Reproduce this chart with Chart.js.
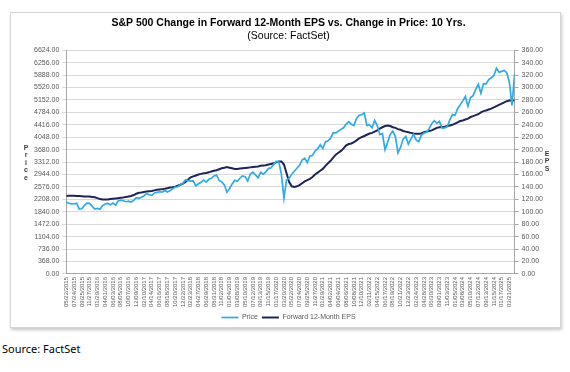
<!DOCTYPE html>
<html>
<head>
<meta charset="utf-8">
<script src="https://cdn.jsdelivr.net/npm/chart.js@4.4.1/dist/chart.umd.min.js"></script>
<style>
  body { margin: 0; background: #fff; width: 570px; height: 372px; position: relative; overflow: hidden; }
  #marco { position: absolute; left: 10px; top: 12px; width: 549px; height: 314px; border: 1px solid #d6d6d6; box-shadow: 1px 2px 3px rgba(0,0,0,0.22); background: #fff; }
  #grafico { position: absolute; left: 0; top: 0; }
  #fuente { position: absolute; left: 2px; top: 341px; font-family: "Noto Sans", sans-serif; font-size: 11px; color: #000; }
</style>
</head>
<body>
<div id="marco"><canvas id="grafico" width="549" height="320"></canvas></div>
<div id="fuente">Source: FactSet</div>
<script>
// etiquetas del eje x (cada 9 semanas)
const etiquetas = [
  '05/22/2015', '07/24/2015', '09/25/2015', '11/27/2015', '01/29/2016', '04/01/2016',
  '06/03/2016', '08/05/2016', '10/07/2016', '12/09/2016', '02/10/2017', '04/14/2017',
  '06/16/2017', '08/18/2017', '10/20/2017', '12/22/2017', '02/23/2018', '04/27/2018',
  '06/29/2018', '08/31/2018', '11/02/2018', '01/04/2019', '03/08/2019', '05/10/2019',
  '07/12/2019', '09/13/2019', '11/15/2019', '01/17/2020', '03/20/2020', '05/22/2020',
  '07/24/2020', '09/25/2020', '11/27/2020', '01/29/2021', '04/02/2021', '06/04/2021',
  '08/06/2021', '10/08/2021', '12/10/2021', '02/11/2022', '04/15/2022', '06/17/2022',
  '08/19/2022', '10/21/2022', '12/23/2022', '02/24/2023', '04/28/2023', '06/30/2023',
  '09/01/2023', '11/03/2023', '01/05/2024', '03/08/2024', '05/10/2024', '07/12/2024',
  '09/13/2024', '11/15/2024', '01/17/2025', '03/21/2025'
];
const semanasPorEtiqueta = 9;
const semanasPorDato = 3; // un dato cada 3 semanas

// S&P 500 (precio)
const precio = [
  2126, 2094, 2077, 2079, 2092, 1921, 1931, 2033, 2099, 2090, 2005, 1922,
  1940, 1917, 2022, 2073, 2091, 2046, 2099, 2037, 2161, 2183, 2169, 2139,
  2153, 2126, 2182, 2259, 2239, 2271, 2316, 2383, 2344, 2329, 2399, 2416,
  2433, 2425, 2472, 2426, 2461, 2519, 2575, 2582, 2642, 2683, 2786, 2762,
  2747, 2752, 2604, 2670, 2712, 2779, 2718, 2802, 2833, 2902, 2930, 2767,
  2723, 2633, 2420, 2532, 2665, 2776, 2743, 2834, 2905, 2881, 2752, 2950,
  3014, 2932, 2847, 3007, 2952, 3023, 3120, 3146, 3240, 3330, 3328, 2954,
  2240, 2790, 2831, 2955, 3041, 3130, 3216, 3373, 3427, 3298, 3484, 3510,
  3638, 3709, 3825, 3714, 3907, 3943, 4020, 4180, 4174, 4230, 4281, 4327,
  4437, 4509, 4433, 4391, 4605, 4698, 4712, 4766, 4398, 4419, 4329, 4543,
  4392, 4123, 4158, 3675, 3899, 4130, 4228, 4067, 3586, 3753, 3993, 4072,
  3845, 3999, 4136, 3970, 3917, 4105, 4169, 4192, 4299, 4450, 4536, 4464,
  4516, 4320, 4327, 4358, 4559, 4719, 4697, 4891, 5005, 5124, 5254, 4967,
  5223, 5278, 5465, 5615, 5347, 5634, 5626, 5751, 5808, 5870, 6090, 5970,
  5997, 6026, 5955, 5668, 4990, 5920
];

// EPS a 12 meses (eje derecho)
const eps = [
  125.5, 126, 126, 126, 125.5, 125.5, 125, 124.5, 124.5, 124.5, 124, 123.5,
  122, 120.5, 120, 120, 120, 120.5, 121, 121.5, 122, 122.5, 123, 124,
  124.5, 125.5, 127, 129, 130.5, 131, 132, 132.5, 133, 133.5, 134.5, 135.5,
  136, 136.5, 137, 138, 139, 139.5, 140.5, 142, 143.5, 145.5, 148, 152,
  155.5, 157, 158.5, 160, 161, 162, 162.5, 163.5, 165, 166, 167, 168.5,
  170, 171, 172, 171, 170, 169, 169, 169.5, 170, 170.5, 171, 171.5,
  172, 172.5, 173, 174, 174.5, 175, 176, 177, 178, 179.5, 181, 181,
  176, 162, 148, 141, 140, 141, 143, 146, 149, 151, 153, 156,
  160, 163, 166, 169, 174, 178, 182, 187, 192, 195, 198, 202,
  207, 209, 210, 212, 215, 218, 220, 222, 224, 226, 227, 229,
  231, 234, 236, 238, 239, 238, 236, 235, 233, 232, 230, 229,
  228, 227, 226, 225.5, 225.5, 226, 228, 229, 230, 231, 233, 235,
  236, 236.5, 237, 238, 239, 240, 242, 244, 246, 247, 248.5, 250,
  252.5, 254, 255.5, 257, 260, 262, 263, 264.5, 266, 268, 270, 272,
  274, 276, 278, 279, 279.5, 279
];

const maxPrecio = 6624;
const pasoPrecio = 368;
const maxEps = 360;
const pasoEps = 20;

const fuente = '"Liberation Sans", Arial, sans-serif';
const grisTexto = '#595959';

// letras apiladas de los titulos de ejes
const letrasEjes = {
  id: 'letrasEjes',
  afterDraw(chart) {
    const ctx = chart.ctx;
    ctx.save();
    ctx.font = 'bold 7px ' + fuente;
    ctx.fillStyle = '#404040';
    ctx.textAlign = 'center';
    ctx.textBaseline = 'middle';
    'Price'.split('').forEach((l, i) => ctx.fillText(l, 15, 135 + i * 7.5));
    'EPS'.split('').forEach((l, i) => ctx.fillText(l, 536, 141 + i * 7.5));
    ctx.restore();
  }
};

const ctx = document.getElementById('grafico').getContext('2d');
new Chart(ctx, {
  type: 'line',
  data: {
    datasets: [{
      label: 'Price',
      data: precio.map((v, i) => ({ x: i * semanasPorDato, y: v })),
      borderColor: '#30AAE4',
      backgroundColor: '#30AAE4',
      borderWidth: 1.7,
      pointRadius: 0,
      tension: 0,
      yAxisID: 'y'
    }, {
      label: 'Forward 12-Month EPS',
      data: eps.map((v, i) => ({ x: i * semanasPorDato, y: v })),
      borderColor: '#1E2456',
      backgroundColor: '#1E2456',
      borderWidth: 2,
      pointRadius: 0,
      tension: 0,
      yAxisID: 'y1'
    }]
  },
  options: {
    responsive: false,
    animation: false,
    layout: { padding: { left: 20, right: 14, top: 2, bottom: 2 } },
    plugins: {
      title: {
        display: true,
        text: 'S&P 500 Change in Forward 12-Month EPS vs. Change in Price: 10 Yrs.',
        color: '#000',
        font: { family: fuente, size: 10.5, weight: 'bold' },
        padding: { top: 2, bottom: 0 }
      },
      subtitle: {
        display: true,
        text: '(Source: FactSet)',
        color: '#000',
        font: { family: fuente, size: 10.5 },
        padding: { top: 0, bottom: 8 }
      },
      legend: {
        position: 'bottom',
        labels: {
          usePointStyle: true,
          pointStyle: 'line',
          pointStyleWidth: 17,
          boxHeight: 6,
          padding: 4,
          color: grisTexto,
          font: { family: fuente, size: 7 }
        }
      },
      tooltip: { enabled: false }
    },
    scales: {
      x: {
        type: 'linear',
        min: 0,
        max: (precio.length - 1) * semanasPorDato,
        grid: { display: false, drawTicks: false },
        border: { color: '#a6a6a6' },
        afterBuildTicks: scale => {
          scale.ticks = etiquetas.map((t, i) => ({ value: i * semanasPorEtiqueta }));
        },
        ticks: {
          autoSkip: false,
          minRotation: 90,
          maxRotation: 90,
          padding: 3,
          color: grisTexto,
          font: { family: fuente, size: 6 },
          callback: (v, i) => etiquetas[i]
        }
      },
      y: {
        position: 'left',
        min: 0,
        max: maxPrecio,
        grid: { color: '#d9d9d9', tickLength: 4 },
        border: { color: '#a6a6a6' },
        ticks: {
          stepSize: pasoPrecio,
          padding: 3,
          color: grisTexto,
          font: { family: fuente, size: 7 },
          callback: v => v.toFixed(2)
        }
      },
      y1: {
        position: 'right',
        min: 0,
        max: maxEps,
        grid: { drawOnChartArea: false, color: '#a6a6a6', tickLength: 4 },
        border: { color: '#a6a6a6' },
        ticks: {
          stepSize: pasoEps,
          padding: 3,
          color: grisTexto,
          font: { family: fuente, size: 7 },
          callback: v => v.toFixed(2)
        }
      }
    }
  },
  plugins: [letrasEjes]
});
</script>
</body>
</html>
